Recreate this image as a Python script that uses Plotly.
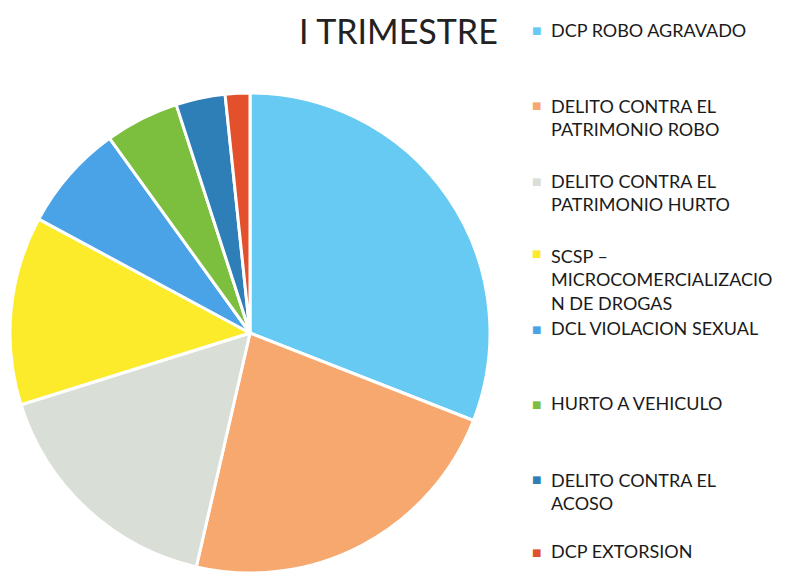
import plotly.graph_objects as go

categories = [
    "DCP ROBO AGRAVADO",
    "DELITO CONTRA EL PATRIMONIO ROBO",
    "DELITO CONTRA EL PATRIMONIO HURTO",
    "SCSP – MICROCOMERCIALIZACION DE DROGAS",
    "DCL VIOLACION SEXUAL",
    "HURTO A VEHICULO",
    "DELITO CONTRA EL ACOSO",
    "DCP EXTORSION",
]
legend_labels = [
    "DCP ROBO AGRAVADO",
    "DELITO CONTRA EL<br>PATRIMONIO ROBO",
    "DELITO CONTRA EL<br>PATRIMONIO HURTO",
    "SCSP –<br>MICROCOMERCIALIZACIO<br>N DE DROGAS",
    "DCL VIOLACION SEXUAL",
    "HURTO A VEHICULO",
    "DELITO CONTRA EL<br>ACOSO",
    "DCP EXTORSION",
]
values = [56, 41, 30, 23, 13, 9, 6, 3]
colors = ["#66CAF2", "#F7A86E", "#D9DED6", "#FCEB2A", "#4AA3E6", "#7CBF3E", "#2E7FB8", "#E2502C"]
title_text = "I TRIMESTRE"

W, H = 790, 579
OFF = 8  # page body margin offset
fig = go.Figure()

# pie geometry (pixels, in page coordinates)
cx, cy, r = 250 - OFF, 333 - OFF, 240
fig.add_trace(go.Pie(
    labels=categories,
    values=values,
    sort=False,
    direction="clockwise",
    rotation=0,
    marker=dict(colors=colors, line=dict(color="white", width=3)),
    textinfo="none",
    hoverinfo="label+value+percent",
    showlegend=False,
    domain=dict(x=[(cx - r) / W, (cx + r) / W], y=[1 - (cy + r) / H, 1 - (cy - r) / H]),
))

# title
fig.add_annotation(text=title_text, x=(398 - OFF) / W, y=1 - (31 - OFF) / H, xref="paper", yref="paper",
                   showarrow=False, xanchor="center", yanchor="middle",
                   font=dict(family="Lato", size=34, color="#222222"))

# legend (first-line center y positions in pixels)
first_line_y = [30, 105, 180, 253, 328, 403, 478, 551]
line_h = 26
for lab, col, y0 in zip(legend_labels, colors, first_line_y):
    n = lab.count("<br>") + 1
    ymid = y0 + (n - 1) * line_h / 2 - OFF
    fig.add_annotation(text=lab, x=(552 - OFF - 3) / W, y=1 - ymid / H, xref="paper", yref="paper",
                       showarrow=False, xanchor="left", yanchor="middle", align="left",
                       font=dict(family="Lato", size=18, color="#1a1a1a"))
    fig.add_annotation(text="■", x=(536 - OFF) / W, y=1 - (y0 + 1 - OFF) / H, xref="paper", yref="paper",
                       showarrow=False, xanchor="center", yanchor="middle",
                       font=dict(family="DejaVu Sans", size=10, color=col))

fig.update_layout(width=W, height=H, margin=dict(l=0, r=0, t=0, b=0),
                  paper_bgcolor="white", plot_bgcolor="white")
fig.write_html("out.html")
